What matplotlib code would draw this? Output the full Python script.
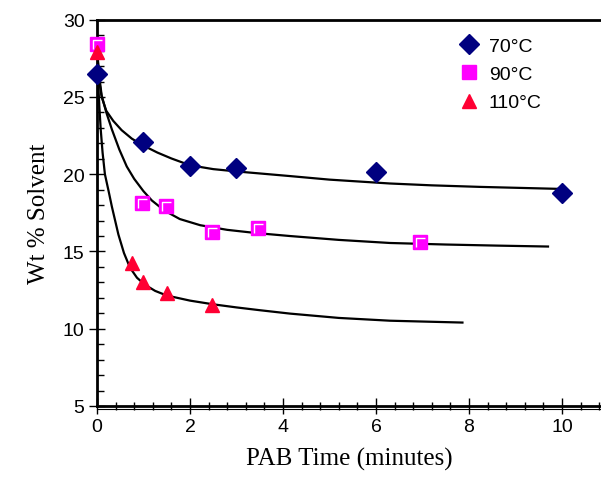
import numpy as np
import matplotlib
matplotlib.use("Agg")
import matplotlib.pyplot as plt
from matplotlib.path import Path
from matplotlib.lines import Line2D
from matplotlib.ticker import MultipleLocator

# measured points
t70 = [0, 1, 2, 3, 6, 10]
w70 = [26.5, 22.1, 20.55, 20.4, 20.15, 18.8]
t90 = [0, 0.97, 1.48, 2.47, 3.46, 6.95]
w90 = [28.4, 18.15, 17.95, 16.28, 16.5, 15.62]
t110 = [0, 0.75, 1.0, 1.5, 2.47]
w110 = [27.9, 14.26, 13.05, 12.32, 11.55]

# fitted curves
ct70 = [0, 0.02, 0.05, 0.1, 0.2, 0.35, 0.53, 0.75, 1.0, 1.3, 1.6, 2.0, 2.5, 3.0, 3.5,
        4.15, 5.0, 6.3, 7.2, 8.24, 9.96]
cw70 = [28.3, 27.2, 26.0, 25.0, 24.1, 23.45, 22.85, 22.3, 21.85, 21.4, 21.02, 20.58, 20.33, 20.18, 20.05,
        19.88, 19.65, 19.4, 19.28, 19.18, 19.05]
ct90 = [0, 0.02, 0.05, 0.1, 0.2, 0.32, 0.48, 0.64, 0.8, 1.0, 1.18, 1.45, 1.78, 2.22, 2.8,
        3.4, 4.15, 5.2, 6.3, 7.5, 8.6, 9.7]
cw90 = [28.3, 27.4, 26.3, 25.1, 24.0, 22.9, 21.6, 20.5, 19.7, 18.9, 18.3, 17.65, 17.1, 16.7, 16.4,
        16.2, 16.0, 15.75, 15.55, 15.45, 15.38, 15.32]
ct110 = [0, 0.02, 0.05, 0.08, 0.12, 0.17, 0.25, 0.32, 0.46, 0.58, 0.71, 0.86, 1.03, 1.25, 1.5,
         2.0, 2.5, 3.0, 3.5, 4.15, 5.2, 6.3, 7.86]
cw110 = [28.3, 26.3, 24.4, 22.9, 21.4, 20.0, 18.9, 17.9, 16.1, 14.9, 13.95, 13.3, 12.85, 12.45, 12.15,
         11.82, 11.58, 11.38, 11.2, 10.98, 10.7, 10.52, 10.4]

plt.rcParams['font.family'] = ['Liberation Sans', 'DejaVu Sans']

fig = plt.figure(figsize=(6.01, 4.81), dpi=100)
ax = fig.add_axes([97 / 601, 1 - 407 / 481, 1 - 97 / 601, (407 - 20.7) / 481])

for ct, cw in [(ct70, cw70), (ct90, cw90), (ct110, cw110)]:
    ax.plot(ct, cw, color='black', lw=1.6, zorder=2, solid_joinstyle='round')

ax.plot(t70, w70, 'D', color='#000080', ms=10, mec='#000080', ls='none', zorder=3, clip_on=False, label='70°C')
ax.plot(t90, w90, 's', color='#FF00FF', ms=10, mec='#FF00FF', ls='none', zorder=3, clip_on=False, label='90°C')
hl = Path([(-0.6, -0.75), (-0.6, 0.6), (0.75, 0.6)], [Path.MOVETO, Path.LINETO, Path.LINETO])
ax.plot(t90, w90, marker=hl, ms=7, mec='white', mfc='none', mew=1.0, ls='none', zorder=4, clip_on=False)
ax.plot(t110, w110, '^', color='#FF0033', ms=10.5, mec='#FF0033', ls='none', zorder=3, clip_on=False, label='110°C')

ax.set_xlim(0, 10.84)
ax.set_ylim(5, 30)
ax.xaxis.set_major_locator(MultipleLocator(2))
ax.xaxis.set_minor_locator(MultipleLocator(0.4))
ax.yaxis.set_major_locator(MultipleLocator(5))
ax.yaxis.set_minor_locator(MultipleLocator(1))

ax.spines['right'].set_visible(False)
for s in ['left', 'bottom', 'top']:
    ax.spines[s].set_linewidth(2)

ax.tick_params(axis='x', which='major', direction='inout', length=12, width=1, labelsize=14, pad=3)
ax.tick_params(axis='x', which='minor', direction='inout', length=6, width=1)
ax.tick_params(axis='y', which='major', direction='inout', length=12, width=1, labelsize=14, pad=3)
ax.tick_params(axis='y', which='minor', direction='in', length=5, width=1)
ax.tick_params(top=False, right=False, which='both')

# thin line just under the x axis
ax.add_line(Line2D([0, 1], [-0.009, -0.009], transform=ax.transAxes, color='black', lw=0.8, clip_on=False))

ax.set_xlabel('PAB Time (minutes)', family=['Liberation Serif'], fontsize=18, labelpad=8)
ax.set_ylabel('Wt % Solvent', family=['Liberation Serif'], fontsize=18, labelpad=9)

handles, labels = ax.get_legend_handles_labels()
ax.legend(handles, labels, loc='upper left', bbox_to_anchor=(0.70, 0.975), frameon=False,
          fontsize=14, handletextpad=0.4, labelspacing=0.55, handlelength=1.2, borderaxespad=0)

fig.savefig('out.png', dpi=100)
